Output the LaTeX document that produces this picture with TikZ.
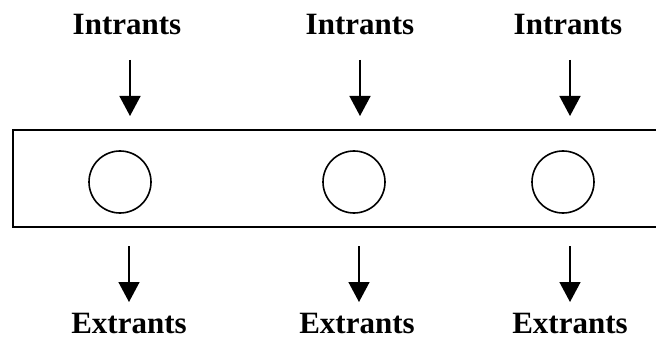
\documentclass[tikz,border=0pt]{standalone}
\usepackage{fontspec}
\setmainfont{Liberation Serif}
\usetikzlibrary{arrows.meta}
\tikzset{
    lbl/.style={anchor=base, inner sep=0pt, font=\bfseries\fontsize{31}{31}\selectfont},
    unit/.style={circle, draw, line width=1.6pt, minimum size=62pt, inner sep=0pt},
    box/.style={line width=2pt},
    flow/.style={-{Triangle[width=21pt, length=20pt]}, line width=1.5pt}
}
\begin{document}
\begin{tikzpicture}[x=1pt, y=-1pt]
			\useasboundingbox (0,0) rectangle (656,342);
			% Box
			\draw [box] (658,130) -- (13,130) -- (13,227) -- (658,227);
			
			% Circles
			\node (c1) [unit] at (120,182) {};
			\node (c2) [unit] at (354,182) {};
			\node (c3) [unit] at (563,182) {};
			
			% Top Row
			\node (in1) [lbl] at (127,34.5) {Intrants};
			\node (in2) [lbl] at (360,34.5) {Intrants};
			\node (in3) [lbl] at (568,34.5) {Intrants};
			
			% Bottom Row
			\node (out1) [lbl] at (129,333) {Extrants};
			\node (out2) [lbl] at (357,333) {Extrants};
			\node (out3) [lbl] at (570,333) {Extrants};
			
			% Arrow ends
			\coordinate (a1) at (130,60);  \coordinate (b1) at (130,116);
			\coordinate (a2) at (360,60);  \coordinate (b2) at (360,116);
			\coordinate (a3) at (570,60);  \coordinate (b3) at (570,116);
			\coordinate (d1) at (129,246); \coordinate (e1) at (129,302);
			\coordinate (d2) at (359,246); \coordinate (e2) at (359,302);
			\coordinate (d3) at (570,246); \coordinate (e3) at (570,302);
			
			% Connections
			\draw [flow] (a1) -- (b1);
			\draw [flow] (a2) -- (b2);
			\draw [flow] (a3) -- (b3);
			\draw [flow] (d1) -- (e1);
			\draw [flow] (d2) -- (e2);
			\draw [flow] (d3) -- (e3);
		\end{tikzpicture}
\end{document}
